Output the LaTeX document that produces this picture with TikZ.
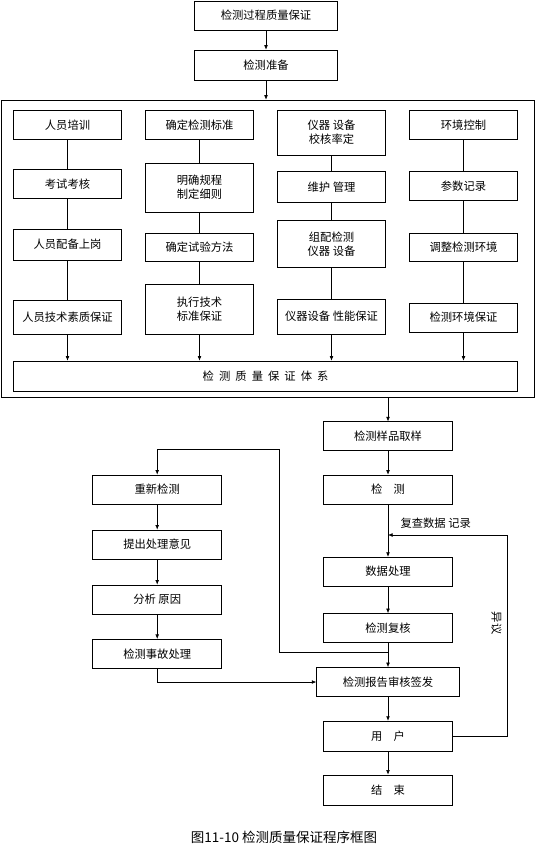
\documentclass[tikz,border=0pt]{standalone}
\usepackage{fontspec}
\setmainfont{Noto Sans CJK SC}
\usepackage{tikz}
\usetikzlibrary{arrows.meta,positioning,calc}

\begin{document}
\begin{tikzpicture}[x=1pt,y=-1pt,
  box/.style={draw, line width=0.6pt, align=center, font=\fontsize{11.3}{14}\selectfont,
              minimum width=108pt, minimum height=29pt, inner sep=2pt},
  wbox/.style={box, minimum width=129pt},
  ln/.style={line width=0.6pt},
  ar/.style={-{Latex[length=1.6mm,width=1.3mm]}, line width=0.6pt}]
\useasboundingbox (0,0) rectangle (535,855);
\node[box, minimum width=143pt] (gc) at (266,15.5) {检测过程质量保证};
\node[box, minimum width=143pt, minimum height=30pt] (zb) at (266,65) {检测准备};
\node[draw, line width=0.6pt, minimum width=533pt, minimum height=297pt, inner sep=0pt] (kj) at (267.5,248.5) {};
\draw[ar] (gc) -- (zb);
\draw[ar] (zb) -- (zb |- kj.north);
% four columns
\node[box] (px) at (67.5,125) {人员培训};
\node[box] (kh) at (67.5,184) {考试考核};
\node[box, minimum height=31pt] (sg) at (67.5,244.5) {人员配备上岗};
\node[box, minimum height=34pt] (rb) at (67.5,317) {人员技术素质保证};
\node[box] (bz) at (199.5,125) {确定检测标准};
\node[box, minimum height=49pt] (gc2) at (199.5,187.5) {明确规程\\制定细则};
\node[box, minimum height=28pt] (ff) at (199.5,247) {确定试验方法};
\node[box, minimum height=50pt] (bb) at (199.5,309) {执行技术\\标准保证};
\node[box, minimum height=45pt] (yq) at (331.5,132.5) {仪器 设备\\校核率定};
\node[box, minimum height=31pt] (wh) at (331.5,187) {维护 管理};
\node[box, minimum height=47pt] (zp) at (331.5,244) {组配检测\\仪器 设备};
\node[box, minimum height=35pt] (yb) at (331.5,316.5) {仪器设备 性能保证};
\node[box] (hj) at (463.5,125) {环境控制};
\node[box] (cs) at (463.5,186) {参数记录};
\node[box, minimum height=28pt] (tz) at (463.5,247.5) {调整检测环境};
\node[box] (hb) at (463.5,317.5) {检测环境保证};
\node[box, minimum width=504pt, minimum height=30pt] (tx) at (265.6,376) {检\ \ 测\ \ 质\ \ 量\ \ 保\ \ 证\ \ 体\ \ 系};
\draw[ln] (px) -- (kh) -- (sg) -- (rb);
\draw[ln] (bz) -- (gc2) -- (ff) -- (bb);
\draw[ln] (yq) -- (wh) -- (zp) -- (yb);
\draw[ln] (hj) -- (cs) -- (tz) -- (hb);
\foreach \n in {rb,bb,yb,hb}
  \draw[ar] (\n) -- (\n |- tx.north);
% main line
\node[wbox, minimum height=28.5pt] (qy) at (388,436) {检测样品取样};
\node[wbox] (jc) at (388,489.5) {检\quad 测};
\node[wbox] (sj) at (388,571.7) {数据处理};
\node[wbox] (fh) at (388,628) {检测复核};
\node[wbox, minimum width=142.6pt] (bg) at (388,682) {检测报告审核签发};
\node[wbox, minimum height=29.7pt] (yh) at (388,736) {用\quad 户};
\node[wbox, minimum height=30.7pt] (js) at (388,790.3) {结\quad 束};
\draw[ar] (qy |- kj.south) -- (qy);
\draw[ar] (qy) -- (jc);
\draw[ar] (jc) -- (sj);
\draw[ar] (sj) -- (fh);
\draw[ar] (fh) -- (bg);
\draw[ar] (bg) -- (yh);
\draw[ar] (yh) -- (js);
% left branch
\node[wbox] (cx) at (157.2,489.5) {重新检测};
\node[wbox] (yj) at (157.2,544.5) {提出处理意见};
\node[wbox] (yy) at (157.2,599.5) {分析 原因};
\node[wbox] (sg2) at (157.2,653.8) {检测事故处理};
\draw[ar] (cx) -- (yj);
\draw[ar] (yj) -- (yy);
\draw[ar] (yy) -- (sg2);
\draw[ar] (sg2) |- (bg.west);
\coordinate (h1) at (279.3,652.3);
\coordinate (h2) at (279.3,449.3);
\draw[ar] (fh.south |- h1) -- (h1) -- (h2) -| (cx.north);
% objection feedback
\coordinate (f1) at (507.3,535);
\draw[ar] (yh.east) -| (f1) -- (jc.south |- f1);
\node[font=\fontsize{11.3}{14}\selectfont, anchor=west] (fc) at (397,523) {复查数据 记录};
\node[font=\fontsize{11.3}{14}\selectfont, rotate=-90] (yi) at (496.5,623) {异议};
\node[font=\fontsize{13.5}{16}\selectfont] (tt) at (284,837) {图11-10 检测质量保证程序框图};
\end{tikzpicture}
\end{document}
